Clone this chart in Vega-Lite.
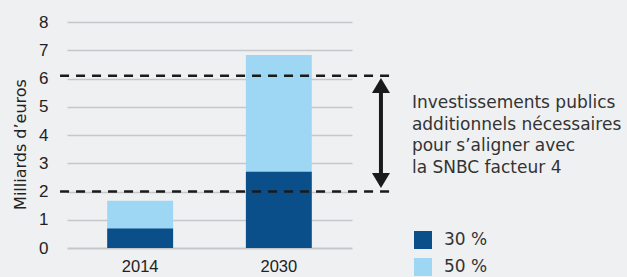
{
  "$schema": "https://vega.github.io/schema/vega-lite/v6.json",
  "width": 285,
  "height": 226,
  "autosize": {"type": "none"},
  "padding": {"left": 67, "top": 22, "right": 275, "bottom": 29},
  "background": "#eff0f2",
  "config": {
    "view": {"stroke": null},
    "font": "Liberation Sans",
    "axis": {"labelFont": "Liberation Sans", "titleFont": "DejaVu Sans"},
    "axisX": {"title": null, "labelAngle": 0, "domain": false, "ticks": false, "labelPadding": 10, "labelFontSize": 16.5, "labelColor": "#222222", "grid": false},
    "axisY": {"titleFontSize": 16, "titleFontWeight": "normal", "titleColor": "#222222", "titlePadding": 10, "titleY": 122, "labelOverlap": false, "domain": false, "ticks": false, "labelPadding": 19, "labelFontSize": 17, "labelColor": "#222222", "gridColor": "#c6c7ca"},
    "legend": {"labelFont": "DejaVu Sans"}
  },
  "datasets": {
    "bars": [
      {"year": "2014", "scenario": "50 %", "value": 1.67},
      {"year": "2030", "scenario": "50 %", "value": 6.83},
      {"year": "2014", "scenario": "30 %", "value": 0.69},
      {"year": "2030", "scenario": "30 %", "value": 2.7}
    ],
    "levels": [
      {"level": 2.0, "from": "2014", "to": "2030"},
      {"level": 6.1, "from": "2014", "to": "2030"}
    ],
    "arrow": [
      {"at": "2030", "low": 2.5, "high": 5.6}
    ],
    "heads": [
      {"at": "2030", "tip": 6.02, "head": "up"},
      {"at": "2030", "tip": 2.12, "head": "down"}
    ],
    "note": [
      {"at": "2030", "top": 5.13, "text": ["Investissements publics", "additionnels nécessaires", "pour s’aligner avec", "la SNBC facteur 4"]}
    ]
  },
  "layer": [
    {
      "data": {"name": "bars"},
      "mark": {"type": "bar"},
      "encoding": {
        "x": {
          "field": "year", "type": "nominal",
          "scale": {"paddingInner": 0.525, "paddingOuter": 0.29}
        },
        "y": {
          "field": "value", "type": "quantitative", "stack": null,
          "scale": {"domain": [0, 8]},
          "axis": {"title": "Milliards d’euros", "values": [0, 1, 2, 3, 4, 5, 6, 7, 8], "gridWidth": {"condition": {"test": "datum.value === 0", "value": 2}, "value": 1.3}}
        },
        "color": {
          "field": "scenario", "type": "nominal",
          "scale": {"domain": ["30 %", "50 %"], "range": ["#0b4f8a", "#9dd7f4"]},
          "legend": {
            "title": null, "orient": "none", "legendX": 347, "legendY": 209, "padding": 0,
            "symbolType": "square", "symbolSize": 324, "symbolStrokeWidth": 0, "symbolOpacity": 1,
            "labelFontSize": 17, "labelColor": "#333333", "labelOffset": 12, "rowPadding": 9
          }
        }
      }
    },
    {
      "data": {"name": "levels"},
      "mark": {"type": "rule", "color": "#1a1a1a", "strokeWidth": 2.5, "strokeDash": [9, 7]},
      "encoding": {
        "x": {"field": "from", "type": "nominal", "bandPosition": -0.716},
        "x2": {"field": "to", "bandPosition": 2.26},
        "y": {"field": "level", "type": "quantitative", "axis": {"title": "Milliards d’euros", "values": [0, 1, 2, 3, 4, 5, 6, 7, 8], "gridWidth": {"condition": {"test": "datum.value === 0", "value": 2}, "value": 1.3}}}
      }
    },
    {
      "data": {"name": "arrow"},
      "mark": {"type": "rule", "color": "#1a1a1a", "strokeWidth": 4},
      "encoding": {
        "x": {"field": "at", "type": "nominal", "bandPosition": 2.05},
        "y": {"field": "low", "type": "quantitative", "axis": {"title": "Milliards d’euros", "values": [0, 1, 2, 3, 4, 5, 6, 7, 8], "gridWidth": {"condition": {"test": "datum.value === 0", "value": 2}, "value": 1.3}}},
        "y2": {"field": "high"}
      }
    },
    {
      "data": {"name": "heads"},
      "mark": {"type": "point", "filled": true, "opacity": 1, "color": "#1a1a1a", "size": 324},
      "encoding": {
        "x": {"field": "at", "type": "nominal", "bandPosition": 2.05},
        "y": {"field": "tip", "type": "quantitative", "axis": {"title": "Milliards d’euros", "values": [0, 1, 2, 3, 4, 5, 6, 7, 8], "gridWidth": {"condition": {"test": "datum.value === 0", "value": 2}, "value": 1.3}}},
        "shape": {
          "field": "head", "type": "nominal",
          "scale": {"domain": ["up", "down"], "range": ["M0,0L1,1.67L-1,1.67Z", "M0,0L1,-1.67L-1,-1.67Z"]},
          "legend": null
        }
      }
    },
    {
      "data": {"name": "note"},
      "mark": {"type": "text", "align": "left", "baseline": "middle", "font": "DejaVu Sans", "fontSize": 17, "lineHeight": 21.5, "color": "#333333"},
      "encoding": {
        "x": {"field": "at", "type": "nominal", "bandPosition": 2.52},
        "y": {"field": "top", "type": "quantitative", "axis": {"title": "Milliards d’euros", "values": [0, 1, 2, 3, 4, 5, 6, 7, 8], "gridWidth": {"condition": {"test": "datum.value === 0", "value": 2}, "value": 1.3}}},
        "text": {"field": "text"}
      }
    }
  ]
}
